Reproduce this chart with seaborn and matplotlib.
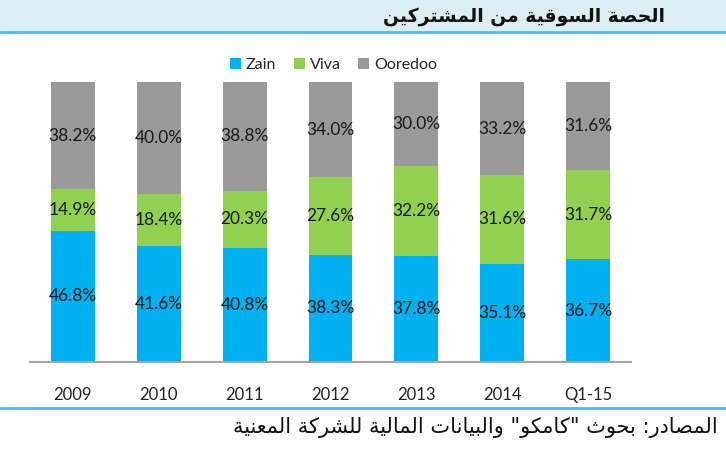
import pandas as pd
import seaborn as sns
import matplotlib.pyplot as plt
from matplotlib.patches import Rectangle
from matplotlib.lines import Line2D

periods = ['2009', '2010', '2011', '2012', '2013', '2014', 'Q1-15']
zain = [46.8, 41.6, 40.8, 38.3, 37.8, 35.1, 36.7]
viva = [14.9, 18.4, 20.3, 27.6, 32.2, 31.6, 31.7]
ooredoo = [38.2, 40.0, 38.8, 34.0, 30.0, 33.2, 31.6]

title = 'الحصة السوقية من المشتركين'
source = 'المصادر: بحوث "كامكو" والبيانات المالية للشركة المعنية'

# minimal arabic shaping (presentation forms + visual order)
DUAL = {'ب': 0xFE8F, 'ت': 0xFE95, 'ث': 0xFE99, 'ح': 0xFEA1, 'س': 0xFEB1,
        'ش': 0xFEB5, 'ص': 0xFEB9, 'ع': 0xFEC9, 'ق': 0xFED5, 'ك': 0xFED9,
        'ل': 0xFEDD, 'م': 0xFEE1, 'ن': 0xFEE5, 'ي': 0xFEF1}
RIGHT = {'ا': 0xFE8D, 'ة': 0xFE93, 'د': 0xFEA9, 'ر': 0xFEAD, 'و': 0xFEED}


def shape(s):
    out = []
    for i, c in enumerate(s):
        if c in DUAL:
            base, dual = DUAL[c], True
        elif c in RIGHT:
            base, dual = RIGHT[c], False
        else:
            out.append(c)
            continue
        prev = s[i - 1] if i > 0 else ''
        nxt = s[i + 1] if i + 1 < len(s) else ''
        p = prev in DUAL
        n = dual and (nxt in DUAL or nxt in RIGHT)
        off = 3 if (p and n) else 1 if p else 2 if n else 0
        out.append(chr(base + off))
    return ''.join(out)[::-1]


df = pd.DataFrame({'period': periods, 'Zain': zain, 'Viva': viva, 'Ooredoo': ooredoo})
tot = df[['Zain', 'Viva', 'Ooredoo']].sum(axis=1)
df['z'] = df['Zain'] / tot
df['zv'] = (df['Zain'] + df['Viva']) / tot
df['all'] = 1.0

c_zain, c_viva, c_oor = '#00b0f0', '#92d050', '#9a9a9a'

sns.set_style('white')
plt.rcParams['font.family'] = ['Lato', 'DejaVu Sans']

fig = plt.figure(figsize=(7.26, 4.5), dpi=100)
ax = fig.add_axes([30 / 726, 88 / 450, 601 / 726, 280 / 450])

kw = dict(width=0.51, saturation=1, linewidth=0, edgecolor='none')
sns.barplot(ax=ax, data=df, x='period', y='all', color=c_oor, label='Ooredoo', **kw)
sns.barplot(ax=ax, data=df, x='period', y='zv', color=c_viva, label='Viva', **kw)
sns.barplot(ax=ax, data=df, x='period', y='z', color=c_zain, label='Zain', **kw)

for i in range(len(df)):
    z, zv = df['z'][i], df['zv'][i]
    for yc, v in [(z / 2, zain[i]), ((z + zv) / 2, viva[i]), ((zv + 1) / 2, ooredoo[i])]:
        ax.text(i, yc, f'{v:.1f}%', ha='center', va='center', fontsize=12.5, color='#1a1a1a')

ax.set_xlim(-0.5, 6.5)
ax.set_ylim(0, 1)
ax.set_xlabel('')
ax.set_ylabel('')
ax.set_yticks([])
ax.tick_params(axis='x', length=0, labelsize=12, labelcolor='#222222', pad=18)
for s in ['top', 'right', 'left']:
    ax.spines[s].set_visible(False)
ax.spines['bottom'].set_color('#a6a6a6')
ax.spines['bottom'].set_linewidth(1.5)

h, l = ax.get_legend_handles_labels()
order = [l.index('Zain'), l.index('Viva'), l.index('Ooredoo')]
ax.legend([h[k] for k in order], [l[k] for k in order], loc='lower center',
          bbox_to_anchor=(0.505, 1.0), ncol=3, frameon=False, fontsize=11.5,
          handlelength=0.7, handleheight=0.7, handletextpad=0.3, columnspacing=1.1,
          borderaxespad=0.2)

# header band and rules
fig.add_artist(Rectangle((0, 1 - 31 / 450), 1, 31 / 450, transform=fig.transFigure,
                         facecolor='#dcedf3', edgecolor='none', zorder=0))
fig.add_artist(Line2D([0, 1], [1 - 32 / 450] * 2, transform=fig.transFigure, color='#49c0e8', lw=2))
fig.add_artist(Line2D([0, 1], [1 - 408 / 450] * 2, transform=fig.transFigure, color='#49c0e8', lw=2))

fig.text(665 / 726, 1 - 16 / 450, shape(title), ha='right', va='center', fontsize=13.5,
         fontweight='bold', family=['DejaVu Sans'], color='#111111')
fig.text(718 / 726, 1 - 428 / 450, shape(source), ha='right', va='center', fontsize=15,
         family=['DejaVu Sans'], color='#111111')

fig.savefig('out.png', dpi=100)
